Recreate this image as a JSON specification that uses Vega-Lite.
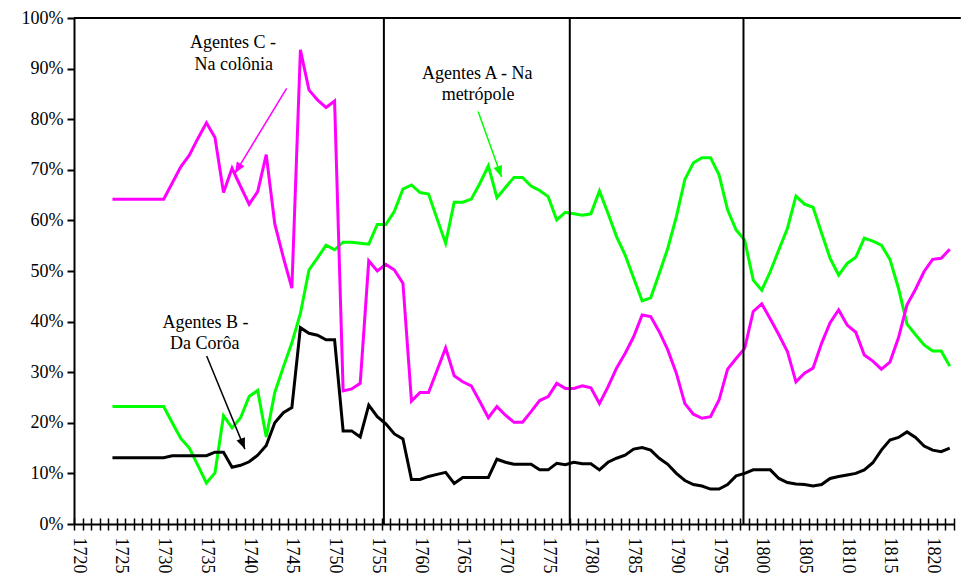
{
  "$schema": "https://vega.github.io/schema/vega-lite/v6.json",
  "width": 880,
  "height": 506,
  "autosize": {"type": "none"},
  "padding": {"left": 74, "top": 18, "right": 18, "bottom": 57},
  "background": "white",
  "config": {"view": {"stroke": null}, "font": "Liberation Serif"},
  "datasets": {
    "series": [
      {"year":1724,"A":23.2,"B":13.1,"C":64.2},
      {"year":1725,"A":23.2,"B":13.1,"C":64.2},
      {"year":1726,"A":23.2,"B":13.1,"C":64.2},
      {"year":1727,"A":23.2,"B":13.1,"C":64.2},
      {"year":1728,"A":23.2,"B":13.1,"C":64.2},
      {"year":1729,"A":23.2,"B":13.1,"C":64.2},
      {"year":1730,"A":23.2,"B":13.1,"C":64.2},
      {"year":1731,"A":20.0,"B":13.5,"C":67.4},
      {"year":1732,"A":16.9,"B":13.5,"C":70.6},
      {"year":1733,"A":15.0,"B":13.5,"C":72.9},
      {"year":1734,"A":11.6,"B":13.5,"C":76.2},
      {"year":1735,"A":8.1,"B":13.5,"C":79.3},
      {"year":1736,"A":10.1,"B":14.2,"C":76.4},
      {"year":1737,"A":21.4,"B":14.2,"C":65.5},
      {"year":1738,"A":19.0,"B":11.2,"C":70.3},
      {"year":1739,"A":21.0,"B":11.6,"C":66.7},
      {"year":1740,"A":25.2,"B":12.3,"C":63.2},
      {"year":1741,"A":26.4,"B":13.6,"C":65.7},
      {"year":1742,"A":17.2,"B":15.5,"C":73.0},
      {"year":1743,"A":26.0,"B":20.0,"C":59.3},
      {"year":1744,"A":31.0,"B":22.0,"C":52.7},
      {"year":1745,"A":35.8,"B":23.0,"C":46.6},
      {"year":1746,"A":41.6,"B":38.8,"C":93.7},
      {"year":1747,"A":50.2,"B":37.7,"C":85.8},
      {"year":1748,"A":52.6,"B":37.3,"C":83.8},
      {"year":1749,"A":55.1,"B":36.4,"C":82.3},
      {"year":1750,"A":54.2,"B":36.4,"C":83.6},
      {"year":1751,"A":55.7,"B":18.4,"C":26.3},
      {"year":1752,"A":55.7,"B":18.4,"C":26.7},
      {"year":1753,"A":55.5,"B":17.2,"C":27.8},
      {"year":1754,"A":55.3,"B":23.5,"C":52.0},
      {"year":1755,"A":59.2,"B":21.2,"C":50.0},
      {"year":1756,"A":59.2,"B":19.8,"C":51.3},
      {"year":1757,"A":61.8,"B":17.8,"C":50.2},
      {"year":1758,"A":66.2,"B":16.8,"C":47.6},
      {"year":1759,"A":67.0,"B":8.8,"C":24.3},
      {"year":1760,"A":65.5,"B":8.8,"C":26.0},
      {"year":1761,"A":65.2,"B":9.4,"C":26.0},
      {"year":1762,"A":60.3,"B":9.8,"C":30.4},
      {"year":1763,"A":55.5,"B":10.2,"C":34.8},
      {"year":1764,"A":63.6,"B":8.0,"C":29.3},
      {"year":1765,"A":63.6,"B":9.2,"C":28.1},
      {"year":1766,"A":64.2,"B":9.2,"C":27.3},
      {"year":1767,"A":67.3,"B":9.2,"C":24.2},
      {"year":1768,"A":70.8,"B":9.2,"C":21.0},
      {"year":1769,"A":64.5,"B":12.8,"C":23.2},
      {"year":1770,"A":66.5,"B":12.2,"C":21.5},
      {"year":1771,"A":68.5,"B":11.8,"C":20.1},
      {"year":1772,"A":68.5,"B":11.8,"C":20.1},
      {"year":1773,"A":66.8,"B":11.8,"C":22.2},
      {"year":1774,"A":65.9,"B":10.7,"C":24.4},
      {"year":1775,"A":64.7,"B":10.7,"C":25.2},
      {"year":1776,"A":60.1,"B":12.0,"C":27.8},
      {"year":1777,"A":61.6,"B":11.7,"C":26.8},
      {"year":1778,"A":61.3,"B":12.2,"C":26.8},
      {"year":1779,"A":61.0,"B":11.9,"C":27.3},
      {"year":1780,"A":61.3,"B":11.9,"C":26.9},
      {"year":1781,"A":65.8,"B":10.7,"C":23.8},
      {"year":1782,"A":61.4,"B":12.2,"C":27.1},
      {"year":1783,"A":56.8,"B":13.0,"C":30.8},
      {"year":1784,"A":53.2,"B":13.6,"C":33.7},
      {"year":1785,"A":48.6,"B":14.8,"C":37.0},
      {"year":1786,"A":44.1,"B":15.1,"C":41.3},
      {"year":1787,"A":44.7,"B":14.6,"C":41.0},
      {"year":1788,"A":49.5,"B":13.0,"C":38.0},
      {"year":1789,"A":54.5,"B":11.8,"C":34.4},
      {"year":1790,"A":60.7,"B":10.0,"C":29.8},
      {"year":1791,"A":68.1,"B":8.6,"C":23.8},
      {"year":1792,"A":71.4,"B":7.8,"C":21.7},
      {"year":1793,"A":72.4,"B":7.5,"C":20.9},
      {"year":1794,"A":72.4,"B":6.9,"C":21.2},
      {"year":1795,"A":69.0,"B":6.9,"C":24.5},
      {"year":1796,"A":62.1,"B":7.8,"C":30.6},
      {"year":1797,"A":58.1,"B":9.5,"C":32.7},
      {"year":1798,"A":56.1,"B":10.0,"C":34.7},
      {"year":1799,"A":48.2,"B":10.7,"C":42.0},
      {"year":1800,"A":46.2,"B":10.7,"C":43.5},
      {"year":1801,"A":49.9,"B":10.7,"C":40.5},
      {"year":1802,"A":54.2,"B":9.0,"C":37.4},
      {"year":1803,"A":58.4,"B":8.2,"C":34.1},
      {"year":1804,"A":64.8,"B":7.9,"C":28.1},
      {"year":1805,"A":63.2,"B":7.8,"C":29.8},
      {"year":1806,"A":62.6,"B":7.5,"C":30.8},
      {"year":1807,"A":57.5,"B":7.8,"C":35.7},
      {"year":1808,"A":52.5,"B":9.0,"C":39.8},
      {"year":1809,"A":49.2,"B":9.4,"C":42.3},
      {"year":1810,"A":51.5,"B":9.7,"C":39.3},
      {"year":1811,"A":52.7,"B":10.0,"C":37.9},
      {"year":1812,"A":56.5,"B":10.7,"C":33.4},
      {"year":1813,"A":55.9,"B":12.1,"C":32.2},
      {"year":1814,"A":55.1,"B":14.6,"C":30.6},
      {"year":1815,"A":52.3,"B":16.6,"C":32.0},
      {"year":1816,"A":46.6,"B":17.1,"C":36.8},
      {"year":1817,"A":39.5,"B":18.2,"C":43.3},
      {"year":1818,"A":37.4,"B":17.1,"C":46.4},
      {"year":1819,"A":35.4,"B":15.4,"C":49.9},
      {"year":1820,"A":34.2,"B":14.6,"C":52.3},
      {"year":1821,"A":34.2,"B":14.3,"C":52.5},
      {"year":1822,"A":31.2,"B":15.0,"C":54.3}
    ],
    "periods": [{"year": 1755.77}, {"year": 1777.53}, {"year": 1797.86}],
    "frame": [{"x1": 1719.5, "x2": 1823.3, "pct": 100}],
    "labels": [
      {"label": "Agentes C -", "year": 1738.1, "pct": 94.0},
      {"label": "Na colônia", "year": 1738.2, "pct": 89.7},
      {"label": "Agentes A - Na", "year": 1766.7, "pct": 87.9},
      {"label": "metrópole", "year": 1766.8, "pct": 83.7},
      {"label": "Agentes B -", "year": 1734.9, "pct": 38.7},
      {"label": "Da Corôa", "year": 1734.8, "pct": 34.5}
    ],
    "arrows": [
      {"serie": "C", "x1": 1744.39, "y1": 86.1, "x2": 1738.34, "y2": 69.3},
      {"serie": "A", "x1": 1766.8, "y1": 81.5, "x2": 1769.54, "y2": 68.6},
      {"serie": "B", "x1": 1735.03, "y1": 33.2, "x2": 1739.5, "y2": 14.8}
    ]
  },
  "resolve": {"axis": {"x": "independent"}},
  "layer": [
    {
      "data": {"name": "series"},
      "transform": [{"fold": ["A", "B", "C"], "as": ["serie", "pct"]}],
      "mark": {"type": "line", "strokeWidth": 3, "interpolate": "linear"},
      "encoding": {
        "x": {
          "field": "year", "type": "quantitative",
          "scale": {"domain": [1719.5, 1822.5], "nice": false, "zero": false},
          "axis": {
            "orient": "bottom",
            "values": [1720,1725,1730,1735,1740,1745,1750,1755,1760,1765,1770,1775,1780,1785,1790,1795,1800,1805,1810,1815,1820],
            "format": "d", "labelAngle": 90, "ticks": false, "grid": false,
            "domain": true, "domainColor": "#000000", "domainWidth": 2,
            "labelFont": "Liberation Serif", "labelFontSize": 18, "labelColor": "#000000",
            "labelPadding": 13, "title": null, "labelOverlap": false
          }
        },
        "y": {
          "field": "pct", "type": "quantitative",
          "scale": {"domain": [0, 100], "nice": false},
          "axis": {
            "orient": "left",
            "values": [0,10,20,30,40,50,60,70,80,90,100],
            "labelExpr": "datum.value + '%'", "grid": false,
            "tickSize": 7, "tickWidth": 2, "tickColor": "#000000",
            "domain": true, "domainColor": "#000000", "domainWidth": 2,
            "labelFont": "Liberation Serif", "labelFontSize": 18, "labelColor": "#000000",
            "labelPadding": 4, "title": null
          }
        },
        "color": {
          "field": "serie", "type": "nominal",
          "scale": {"domain": ["A", "B", "C"], "range": ["#00FF00", "#000000", "#FF00FF"]},
          "legend": null
        }
      }
    },
    {
      "data": {"name": "periods"},
      "mark": {"type": "rule", "color": "#000000", "strokeWidth": 2},
      "encoding": {
        "x": {
          "field": "year", "type": "quantitative",
          "scale": {"domain": [1719.5, 1822.5], "nice": false, "zero": false},
          "axis": {
            "orient": "bottom", "offset": -6,
            "values": [1719.5,1720.5,1721.5,1722.5,1723.5,1724.5,1725.5,1726.5,1727.5,1728.5,1729.5,1730.5,1731.5,1732.5,1733.5,1734.5,1735.5,1736.5,1737.5,1738.5,1739.5,1740.5,1741.5,1742.5,1743.5,1744.5,1745.5,1746.5,1747.5,1748.5,1749.5,1750.5,1751.5,1752.5,1753.5,1754.5,1755.5,1756.5,1757.5,1758.5,1759.5,1760.5,1761.5,1762.5,1763.5,1764.5,1765.5,1766.5,1767.5,1768.5,1769.5,1770.5,1771.5,1772.5,1773.5,1774.5,1775.5,1776.5,1777.5,1778.5,1779.5,1780.5,1781.5,1782.5,1783.5,1784.5,1785.5,1786.5,1787.5,1788.5,1789.5,1790.5,1791.5,1792.5,1793.5,1794.5,1795.5,1796.5,1797.5,1798.5,1799.5,1800.5,1801.5,1802.5,1803.5,1804.5,1805.5,1806.5,1807.5,1808.5,1809.5,1810.5,1811.5,1812.5,1813.5,1814.5,1815.5,1816.5,1817.5,1818.5,1819.5,1820.5,1821.5,1822.5],
            "ticks": true, "tickSize": 12, "tickWidth": 1.5, "tickColor": "#000000",
            "labels": false, "domain": false, "grid": false, "title": null
          }
        }
      }
    },
    {
      "data": {"name": "frame"},
      "mark": {"type": "rule", "color": "#000000", "strokeWidth": 2},
      "encoding": {
        "x": {"field": "x1", "type": "quantitative", "axis": null},
        "x2": {"field": "x2"},
        "y": {"field": "pct", "type": "quantitative"}
      }
    },
    {
      "data": {"name": "arrows"},
      "mark": {"type": "rule", "strokeWidth": 1.5},
      "encoding": {
        "x": {"field": "x1", "type": "quantitative", "axis": null},
        "y": {"field": "y1", "type": "quantitative"},
        "x2": {"field": "x2"},
        "y2": {"field": "y2"},
        "color": {"field": "serie", "type": "nominal", "legend": null}
      }
    },
    {
      "data": {"name": "arrows"},
      "transform": [{"filter": "datum.serie === 'C'"}],
      "mark": {"type": "point", "filled": true, "opacity": 1, "size": 400, "angle": 211, "shape": "M0,0 L-0.45,1.1 L0.45,1.1 Z", "strokeWidth": 0},
      "encoding": {
        "x": {"field": "x2", "type": "quantitative", "axis": null},
        "y": {"field": "y2", "type": "quantitative"},
        "color": {"field": "serie", "type": "nominal", "legend": null}
      }
    },
    {
      "data": {"name": "arrows"},
      "transform": [{"filter": "datum.serie === 'A'"}],
      "mark": {"type": "point", "filled": true, "opacity": 1, "size": 400, "angle": 160, "shape": "M0,0 L-0.45,1.1 L0.45,1.1 Z", "strokeWidth": 0},
      "encoding": {
        "x": {"field": "x2", "type": "quantitative", "axis": null},
        "y": {"field": "y2", "type": "quantitative"},
        "color": {"field": "serie", "type": "nominal", "legend": null}
      }
    },
    {
      "data": {"name": "arrows"},
      "transform": [{"filter": "datum.serie === 'B'"}],
      "mark": {"type": "point", "filled": true, "opacity": 1, "size": 400, "angle": 158, "shape": "M0,0 L-0.45,1.1 L0.45,1.1 Z", "strokeWidth": 0},
      "encoding": {
        "x": {"field": "x2", "type": "quantitative", "axis": null},
        "y": {"field": "y2", "type": "quantitative"},
        "color": {"field": "serie", "type": "nominal", "legend": null}
      }
    },
    {
      "data": {"name": "labels"},
      "mark": {"type": "text", "font": "Liberation Serif", "fontSize": 18, "color": "#000000", "align": "center", "baseline": "alphabetic"},
      "encoding": {
        "x": {"field": "year", "type": "quantitative", "axis": null},
        "y": {"field": "pct", "type": "quantitative"},
        "text": {"field": "label"}
      }
    }
  ]
}
